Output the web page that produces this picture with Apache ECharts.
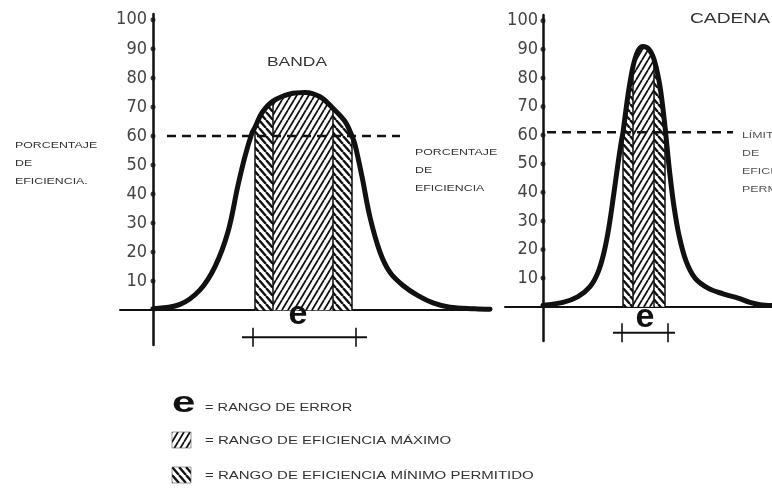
<!DOCTYPE html>
<html>
<head>
<meta charset="utf-8">
<style>
  html, body { margin: 0; padding: 0; background: #fff; }
  #chart { width: 772px; height: 491px; }
</style>
<script src="https://cdn.jsdelivr.net/npm/echarts@6.0.0/dist/echarts.min.js"></script>
</head>
<body>
<div id="chart"></div>
<script>
// y ticks (both charts)
var yTicks = [10, 20, 30, 40, 50, 60, 70, 80, 90, 100];

// BANDA curve: x measured from the y axis, y = porcentaje
var bandaX = [0, 27, 47, 62, 75, 85, 92, 99, 102, 109, 120, 137, 152, 167, 180, 192, 199, 202, 209, 217, 227, 237, 250, 265, 280, 297, 322, 337];
var bandaY = [0.5, 2, 7, 15, 27, 43, 53, 61, 63, 68, 72, 74.5, 75, 73.5, 69.5, 65, 60, 57, 46, 32, 20, 13, 8.5, 5, 2.5, 1, 0.5, 0.3];
var bandaMinRange = [102, 199];   // rango minimo permitido
var bandaMaxRange = [120, 180];   // rango maximo
var bandaLimit = 60;
var bandaLimitRange = [14, 247];
var bandaErrorRange = [89, 214];
var bandaErrorTicks = [100, 203];
var bandaErrorLevel = -9.3;

// CADENA curve
var cadenaX = [0, 20, 35, 47, 55, 61, 66, 71, 75, 78, 80, 85, 90, 95, 100, 106, 111, 116, 119, 122, 124, 127, 131, 136, 143, 152, 165, 180, 195, 207, 217, 229];
var cadenaY = [0.5, 1.5, 3.5, 7, 12, 19, 28, 40, 50, 57, 61, 74, 84, 89.5, 91, 90, 86.5, 79, 72, 63, 56, 46, 35, 25, 16, 10, 6.5, 4.5, 3, 1.5, 0.7, 0.4];
var cadenaMinRange = [80, 122];
var cadenaMaxRange = [90, 111];
var cadenaLimit = 61;
var cadenaLimitRange = [4, 190];
var cadenaErrorRange = [70, 132];
var cadenaErrorTicks = [79, 125];
var cadenaErrorLevel = -9.1;

var ink = '#111';
var labelFont = "'Liberation Sans Narrow', 'DejaVu Sans Condensed', 'Liberation Sans', sans-serif";
var textFont = "'Liberation Sans', Arial, sans-serif";

// diagonal hatch texture, dir '/' or '\'
function makeHatch(dir, w, h, lw) {
    var c = document.createElement('canvas');
    c.width = w; c.height = h;
    var ctx = c.getContext('2d');
    ctx.fillStyle = '#fff';
    ctx.fillRect(0, 0, w, h);
    ctx.strokeStyle = ink;
    ctx.lineWidth = lw;
    ctx.beginPath();
    for (var k = -1; k <= 1; k++) {
        var o = k * w;
        if (dir === '/') {
            ctx.moveTo(o, h); ctx.lineTo(o + w, 0);
        } else {
            ctx.moveTo(o, 0); ctx.lineTo(o + w, h);
        }
    }
    ctx.stroke();
    return c;
}
var hatchMax = makeHatch('/', 6, 10, 1.8);
var hatchMin = makeHatch('\\', 7, 8, 2.4);

function pairs(xs, ys) {
    return xs.map(function (x, i) { return [x, ys[i]]; });
}
function slice(xs, ys, range) {
    return pairs(xs, ys).filter(function (p) { return p[0] >= range[0] && p[0] <= range[1]; });
}
// vertical edges of the hatched blocks, from the baseline up to the curve
function edges(xs, ys, ranges) {
    var out = [];
    ranges.forEach(function (r) {
        r.forEach(function (x) {
            var y = ys[xs.indexOf(x)];
            if (out.length) out.push('-');
            out.push([x, 0], [x, y]);
        });
    });
    return out;
}

function chartSeries(idx, xs, ys, minRange, maxRange, limit, limitRange, errRange, errTicks, errLevel) {
    var base = { xAxisIndex: idx, yAxisIndex: idx, animation: false, silent: true };
    function s(o) { return Object.assign({}, base, o); }
    return [
        s({ type: 'line', smooth: 0.35, symbol: 'none', z: 2,
            data: slice(xs, ys, minRange),
            lineStyle: { width: 0 },
            areaStyle: { color: { image: hatchMin, repeat: 'repeat' }, opacity: 1 } }),
        s({ type: 'line', smooth: 0.35, symbol: 'none', z: 3,
            data: slice(xs, ys, maxRange),
            lineStyle: { width: 0 },
            areaStyle: { color: { image: hatchMax, repeat: 'repeat' }, opacity: 1 } }),
        s({ type: 'line', symbol: 'none', z: 3, connectNulls: false,
            data: edges(xs, ys, [minRange, maxRange]),
            lineStyle: { color: ink, width: 1.5 } }),
        s({ type: 'line', symbol: 'none', z: 4,
            data: [[limitRange[0], limit], [limitRange[1], limit]],
            lineStyle: { color: ink, width: 2.5, type: [9, 6] } }),
        s({ type: 'line', smooth: 0.35, symbol: 'none', z: 5,
            data: pairs(xs, ys),
            lineStyle: { color: ink, width: 5, cap: 'round', join: 'round' } }),
        s({ type: 'line', symbol: 'none', z: 5,
            data: [[errRange[0], errLevel], [errRange[1], errLevel]],
            lineStyle: { color: ink, width: 2 } }),
        s({ type: 'scatter', symbol: 'rect', symbolSize: [2, 19], z: 5,
            data: errTicks.map(function (x) { return [x, errLevel]; }),
            itemStyle: { color: ink } }),
        s({ type: 'scatter', symbolSize: 5, z: 6,
            data: yTicks.map(function (v) { return [0, v]; }),
            itemStyle: { color: ink } })
    ];
}

function xAxisOf(idx, min, max) {
    return {
        gridIndex: idx, type: 'value', min: min, max: max,
        axisLine: { show: true, onZero: true, lineStyle: { color: ink, width: 2 } },
        axisTick: { show: false }, axisLabel: { show: false }, splitLine: { show: false }
    };
}
// labels stay at the grid edge, so margin pulls them next to the zero line
function yAxisOf(idx, margin) {
    return {
        gridIndex: idx, type: 'value', min: -12, max: 102,
        axisLine: { show: true, onZero: true, lineStyle: { color: ink, width: 2.5 } },
        axisTick: { show: false }, splitLine: { show: false },
        axisLabel: { customValues: yTicks, margin: margin, color: '#444', fontSize: 18, fontFamily: labelFont }
    };
}

function txt(str, x, y, size, opts) {
    opts = opts || {};
    return {
        type: 'text', x: x, y: y, scaleX: opts.scaleX || 1, z: 100, silent: true,
        style: {
            text: str, fontSize: size, fontFamily: textFont,
            fontWeight: opts.weight || 'normal',
            fill: opts.color || '#333', align: opts.align || 'left', verticalAlign: 'middle'
        }
    };
}

var chartBox = echarts.init(document.getElementById('chart'), null, { renderer: 'canvas' });

var graphics = [
    txt('BANDA', 297, 62, 13, { scaleX: 1.34, align: 'center' }),
    txt('CADENA', 690, 19, 14, { scaleX: 1.37 }),
    txt('PORCENTAJE', 15, 145, 9.5, { scaleX: 1.3 }),
    txt('DE', 15, 163, 9.5, { scaleX: 1.3 }),
    txt('EFICIENCIA.', 15, 181, 9.5, { scaleX: 1.3 }),
    txt('PORCENTAJE', 415, 152, 9.5, { scaleX: 1.3 }),
    txt('DE', 415, 170, 9.5, { scaleX: 1.3 }),
    txt('EFICIENCIA', 415, 188, 9.5, { scaleX: 1.3 }),
    txt('LÍMITE', 742, 135, 9.5, { scaleX: 1.3, color: '#555' }),
    txt('DE', 742, 153, 9.5, { scaleX: 1.3, color: '#555' }),
    txt('EFICIENCIA', 742, 171, 9.5, { scaleX: 1.3, color: '#555' }),
    txt('PERMITIDA', 742, 189, 9.5, { scaleX: 1.3, color: '#555' }),
    txt('e', 298, 315, 34, { align: 'center', color: ink, weight: 'bold' }),
    txt('e', 645, 318, 34, { align: 'center', color: ink, weight: 'bold' }),
    // legend
    txt('e', 172, 404, 30, { weight: 'bold', scaleX: 1.4, color: ink }),
    txt('= RANGO DE ERROR', 205, 408, 10, { scaleX: 1.46 }),
    { type: 'rect', x: 172, y: 432, shape: { width: 19, height: 16 }, z: 100, silent: true,
      style: { fill: { image: hatchMax, repeat: 'repeat' }, stroke: '#555', lineWidth: 0.6 } },
    txt('= RANGO DE EFICIENCIA MÁXIMO', 205, 441, 10, { scaleX: 1.5 }),
    { type: 'rect', x: 172, y: 467, shape: { width: 19, height: 16 }, z: 100, silent: true,
      style: { fill: { image: hatchMin, repeat: 'repeat' }, stroke: '#555', lineWidth: 0.6 } },
    txt('= RANGO DE EFICIENCIA MÍNIMO PERMITIDO', 205, 476, 10, { scaleX: 1.5 })
];

var option = {
    animation: false,
    backgroundColor: '#fff',
    grid: [
        { left: 120, top: 14, width: 370, height: 331 },
        { left: 505, top: 15, width: 267, height: 326 }
    ],
    xAxis: [xAxisOf(0, -33, 337), xAxisOf(1, -38, 229)],
    yAxis: [yAxisOf(0, -27), yAxisOf(1, -33)],
    series: chartSeries(0, bandaX, bandaY, bandaMinRange, bandaMaxRange, bandaLimit, bandaLimitRange,
                        bandaErrorRange, bandaErrorTicks, bandaErrorLevel)
        .concat(chartSeries(1, cadenaX, cadenaY, cadenaMinRange, cadenaMaxRange, cadenaLimit, cadenaLimitRange,
                            cadenaErrorRange, cadenaErrorTicks, cadenaErrorLevel)),
    graphic: graphics
};
chartBox.setOption(option);
</script>
</body>
</html>
